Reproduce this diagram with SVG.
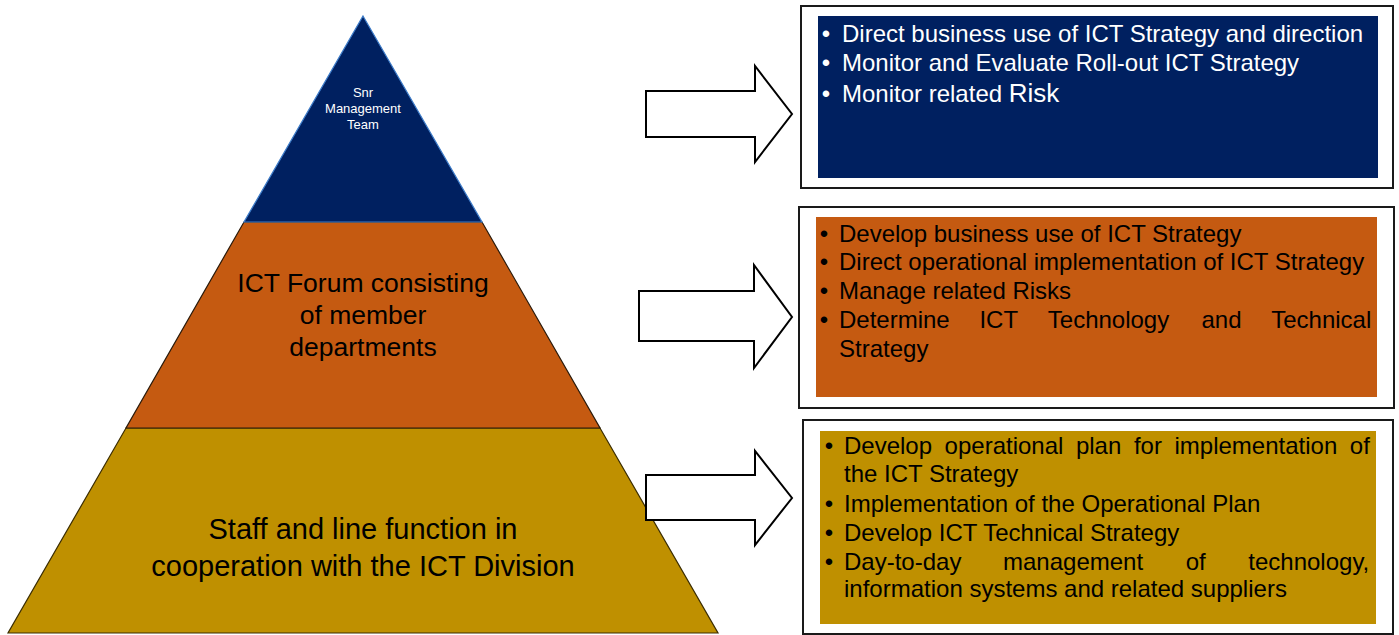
<svg xmlns="http://www.w3.org/2000/svg" width="1399" height="635" viewBox="0 0 1399 635">
<style>
text{font-family:"Liberation Sans",Arial,sans-serif}
.w{fill:#ffffff}
.k{fill:#000000}
.b{font-size:24px}
.frame{fill:#ffffff;stroke:#1a1a1a;stroke-width:2}
.arrow{fill:#ffffff;stroke:#000000;stroke-width:2;stroke-linejoin:miter}
.mid{text-anchor:middle}
</style>
<rect width="1399" height="635" fill="#ffffff"/>
<g id="pyr-bottom">
<polygon points="126,428 600,428 718,633 8,633" fill="#BF9000" stroke="#3a2c00" stroke-width="1.2"/>
<text class="k mid" font-size="29" x="363" y="539">Staff and line function in</text>
<text class="k mid" font-size="29" x="363" y="576">cooperation with the ICT Division</text>
</g>
<g id="pyr-middle">
<polygon points="244,222 482,222 600,428 126,428" fill="#C55A11" stroke="#2a1a0a" stroke-width="1.2"/>
<text class="k mid" font-size="26.5" x="363" y="292">ICT Forum consisting</text>
<text class="k mid" font-size="26.5" x="363" y="324">of member</text>
<text class="k mid" font-size="26.5" x="363" y="356">departments</text>
</g>
<g id="pyr-top">
<polygon points="363,16 482,222 244,222" fill="#002060" stroke="#3d7cc9" stroke-width="1.2"/>
<text class="w mid" font-size="13" x="363" y="97">Snr</text>
<text class="w mid" font-size="13" x="363" y="113">Management</text>
<text class="w mid" font-size="13" x="363" y="129">Team</text>
</g>
<g id="connectors">
<polygon class="arrow" points="646,91 755,91 755,66 792,114 755,162 755,137 646,137"/>
<polygon class="arrow" points="639,291 754,291 754,265 792,317 754,368 754,341 639,341"/>
<polygon class="arrow" points="646,475 755,475 755,451 792,498 755,545 755,520 646,520"/>
</g>
<g id="box-top">
<rect class="frame" x="801" y="6" width="592" height="182"/>
<rect x="818" y="16" width="560" height="162" fill="#002060"/>
<g class="w b">
<text x="826" y="41.5" class="mid">•</text>
<text x="842" y="41.5">Direct business use of ICT Strategy and direction</text>
<text x="826" y="71" class="mid">•</text>
<text x="842" y="71">Monitor and Evaluate Roll-out ICT Strategy</text>
<text x="826" y="101.5" class="mid">•</text>
<text x="842" y="101.5">Monitor related <tspan font-size="26">Risk</tspan></text>
</g>
</g>
<g id="box-middle">
<rect class="frame" x="799" y="207" width="595" height="201"/>
<rect x="816" y="217" width="561" height="180" fill="#C55A11"/>
<g class="k b">
<text x="824" y="241.5" class="mid">•</text>
<text x="839" y="241.5">Develop business use of ICT Strategy</text>
<text x="824" y="270" class="mid">•</text>
<text x="839" y="270">Direct operational implementation of ICT Strategy</text>
<text x="824" y="299" class="mid">•</text>
<text x="839" y="299">Manage related Risks</text>
<text x="824" y="328" class="mid">•</text>
<text y="328"><tspan x="839">Determine</tspan><tspan x="979.4">ICT</tspan><tspan x="1047.8">Technology</tspan><tspan x="1201.5">and</tspan><tspan x="1271.2">Technical</tspan></text>
<text x="839" y="356.5">Strategy</text>
</g>
</g>
<g id="box-bottom">
<rect class="frame" x="803" y="420" width="590" height="214"/>
<rect x="820" y="431" width="556" height="193" fill="#BF9000"/>
<g class="k b">
<text x="829" y="454" class="mid">•</text>
<text y="454"><tspan x="844">Develop</tspan><tspan x="944.6">operational</tspan><tspan x="1075.9">plan</tspan><tspan x="1133.9">for</tspan><tspan x="1174.5">implementation</tspan><tspan x="1349.8">of</tspan></text>
<text x="844" y="482">the ICT Strategy</text>
<text x="829" y="511.5" class="mid">•</text>
<text x="844" y="511.5">Implementation of the Operational Plan</text>
<text x="829" y="540.5" class="mid">•</text>
<text x="844" y="540.5">Develop ICT Technical Strategy</text>
<text x="829" y="570" class="mid">•</text>
<text y="570"><tspan x="844">Day-to-day</tspan><tspan x="1003">management</tspan><tspan x="1185.7">of</tspan><tspan x="1248.3">technology,</tspan></text>
<text x="844" y="597">information systems and related suppliers</text>
</g>
</g>
</svg>
